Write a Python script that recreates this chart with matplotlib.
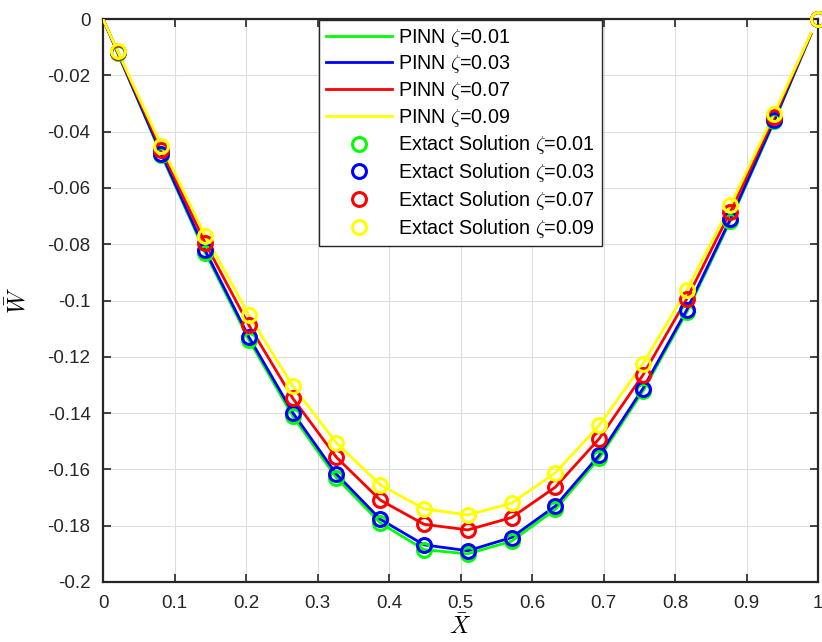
import matplotlib
matplotlib.use("Agg")
import matplotlib.pyplot as plt

plt.rcParams['font.family'] = ['Liberation Sans', 'DejaVu Sans']
plt.rcParams['mathtext.fontset'] = 'cm'

# ---- data ----
marker_x = [0.0204, 0.0816, 0.1429, 0.2041, 0.2653, 0.3265, 0.3878, 0.4490, 0.5102,
            0.5714, 0.6327, 0.6939, 0.7551, 0.8163, 0.8776, 0.9388, 1.0]
exact_001 = [-0.0120, -0.0483, -0.0830, -0.1140, -0.1410, -0.1630, -0.1790, -0.1885, -0.1900,
             -0.1855, -0.1742, -0.1560, -0.1322, -0.1042, -0.0716, -0.0364, 0.0]
exact_003 = [-0.0119, -0.0478, -0.0822, -0.1130, -0.1398, -0.1617, -0.1777, -0.1868, -0.1889,
             -0.1842, -0.1730, -0.1550, -0.1313, -0.1034, -0.0710, -0.0360, 0.0]
exact_007 = [-0.0116, -0.0464, -0.0796, -0.1088, -0.1347, -0.1557, -0.1709, -0.1795, -0.1815,
             -0.1771, -0.1663, -0.1491, -0.1265, -0.0995, -0.0684, -0.0347, 0.0]
exact_009 = [-0.0114, -0.0450, -0.0770, -0.1052, -0.1304, -0.1506, -0.1655, -0.1740, -0.1762,
             -0.1720, -0.1612, -0.1444, -0.1225, -0.0963, -0.0662, -0.0336, 0.0]

line_x = [0.0, 0.0204, 0.0816, 0.1429, 0.2041, 0.2653, 0.3265, 0.3878, 0.4490, 0.5102,
          0.5714, 0.6327, 0.6939, 0.7551, 0.8163, 0.8776, 0.9388, 0.99]
pinn_001 = [0.0, -0.0120, -0.0483, -0.0830, -0.1140, -0.1410, -0.1630, -0.1790, -0.1885, -0.1900,
            -0.1855, -0.1742, -0.1560, -0.1322, -0.1042, -0.0716, -0.0364, -0.0056]
pinn_003 = [0.0, -0.0119, -0.0478, -0.0822, -0.1130, -0.1398, -0.1617, -0.1777, -0.1868, -0.1889,
            -0.1842, -0.1730, -0.1550, -0.1313, -0.1034, -0.0710, -0.0360, -0.0055]
pinn_007 = [0.0, -0.0116, -0.0464, -0.0796, -0.1088, -0.1347, -0.1557, -0.1709, -0.1795, -0.1815,
            -0.1771, -0.1663, -0.1491, -0.1265, -0.0995, -0.0684, -0.0347, -0.0053]
pinn_009 = [0.0, -0.0114, -0.0450, -0.0770, -0.1052, -0.1304, -0.1506, -0.1655, -0.1740, -0.1762,
            -0.1720, -0.1612, -0.1444, -0.1225, -0.0963, -0.0662, -0.0336, -0.0051]

zetas = ['0.01', '0.03', '0.07', '0.09']
colors = ['#00ff00', '#0000ff', '#ff0000', '#ffff00']
x_ticks = [0, 0.1, 0.2, 0.3, 0.4, 0.5, 0.6, 0.7, 0.8, 0.9, 1]
x_tick_labels = ['0', '0.1', '0.2', '0.3', '0.4', '0.5', '0.6', '0.7', '0.8', '0.9', '1']
y_ticks = [0, -0.02, -0.04, -0.06, -0.08, -0.1, -0.12, -0.14, -0.16, -0.18, -0.2]
y_tick_labels = ['0', '-0.02', '-0.04', '-0.06', '-0.08', '-0.1', '-0.12', '-0.14', '-0.16', '-0.18', '-0.2']

fig = plt.figure(figsize=(8.22, 6.42), dpi=100)
ax = fig.add_axes([103/822, 1-582/642, 715/822, 563/642])

pinns = [pinn_001, pinn_003, pinn_007, pinn_009]
exacts = [exact_001, exact_003, exact_007, exact_009]
for z, c, p in zip(zetas, colors, pinns):
    ax.plot(line_x, p, color=c, lw=2.0, label='PINN $\\zeta$=' + z, zorder=3)
for z, c, e in zip(zetas, colors, exacts):
    ax.plot(marker_x, e, linestyle='none', marker='o', markersize=10, markerfacecolor='none',
            markeredgecolor=c, markeredgewidth=2.2, label='Extact Solution $\\zeta$=' + z,
            zorder=4, clip_on=False)

ax.set_xlim(0, 1)
ax.set_ylim(-0.2, 0)
ax.set_xticks(x_ticks)
ax.set_xticklabels(x_tick_labels)
ax.set_yticks(y_ticks)
ax.set_yticklabels(y_tick_labels)
ax.tick_params(direction='in', length=6, width=1.2, top=True, right=True,
               labelsize=13.5, colors='#262626')
ax.tick_params(axis='x', pad=9)
ax.tick_params(axis='y', pad=9)
ax.grid(True, color='#dedede', lw=0.8)
ax.set_axisbelow(True)
for s in ax.spines.values():
    s.set_linewidth(1.6)
    s.set_color('#262626')

ax.set_xlabel(r'$\bar{X}$', fontsize=17, labelpad=2)
ax.set_ylabel(r'$\bar{W}$', fontsize=17, labelpad=12)

leg = ax.legend(loc='upper left', bbox_to_anchor=((319-103)/715, 1-1/563), fontsize=14.2,
                frameon=True, fancybox=False, framealpha=1, edgecolor='#262626',
                handlelength=3.35, handletextpad=0.33, labelspacing=0.24, borderaxespad=0,
                borderpad=0.33)
leg.get_frame().set_linewidth(1.0)

fig.savefig('out.png', dpi=100)
